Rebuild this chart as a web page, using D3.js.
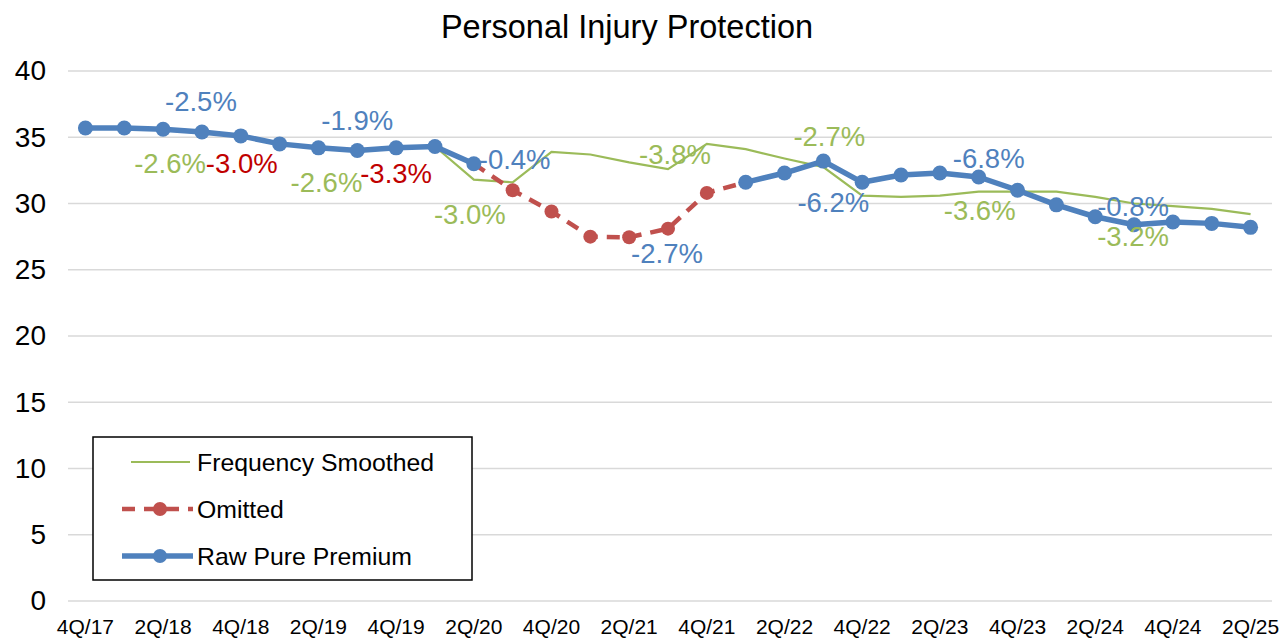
<!DOCTYPE html>
<html>
<head>
<meta charset="utf-8">
<script src="https://cdn.jsdelivr.net/npm/d3@7"></script>
<style>
  body { margin: 0; background: #fff; }
  #chart text { font-family: Arial, "Liberation Sans", sans-serif; }
</style>
</head>
<body>
<div id="chart"></div>
<script>
// quarters on the x axis
const quarters = ["4Q/17","1Q/18","2Q/18","3Q/18","4Q/18","1Q/19","2Q/19","3Q/19","4Q/19","1Q/20",
  "2Q/20","3Q/20","4Q/20","1Q/21","2Q/21","3Q/21","4Q/21","1Q/22","2Q/22","3Q/22",
  "4Q/22","1Q/23","2Q/23","3Q/23","4Q/23","1Q/24","2Q/24","3Q/24","4Q/24","1Q/25","2Q/25"]
const yTicks = [0, 5, 10, 15, 20, 25, 30, 35, 40]

const rawPurePremium = [35.7,35.7,35.6,35.4,35.1,34.5,34.2,34.0,34.2,34.3,
  33.0,null,null,null,null,null,null,31.6,32.3,33.2,
  31.6,32.15,32.3,32.0,31.0,29.9,29.0,28.4,28.6,28.5,28.2]
const omitted = [null,null,null,null,null,null,null,null,null,null,
  33.0,31.0,29.4,27.5,27.45,28.1,30.8,31.6,null,null,
  null,null,null,null,null,null,null,null,null,null,null]
const frequencySmoothed = [35.7,35.7,35.6,35.4,35.1,34.5,34.2,34.0,34.2,34.3,
  31.8,31.6,33.9,33.7,33.1,32.6,34.5,34.1,33.4,32.75,
  30.6,30.5,30.6,30.9,30.9,30.9,30.5,30.0,29.8,29.6,29.2]

// percent annotations: [quarter index, text]
const rawLabels = [[3,"-2.5%"],[7,"-1.9%"],[11,"-0.4%"],[15,"-2.7%"],[19,"-6.2%"],[23,"-6.8%"],[27,"-0.8%"]]
const freqLabels = [[2,"-2.6%"],[6,"-2.6%"],[10,"-3.0%"],[15,"-3.8%"],[19,"-2.7%"],[23,"-3.6%"],[27,"-3.2%"]]
const omitLabels = [[4,"-3.0%"],[8,"-3.3%"]]

const width = 1283, height = 638
const blue = "#4F81BD", red = "#C0504D", green = "#9BBB59", darkRed = "#C00000"

const svg = d3.select("#chart").append("svg")
  .attr("width", width).attr("height", height)

const x = d3.scaleBand().domain(d3.range(quarters.length)).range([66, 1270])
const cx = i => x(i) + x.bandwidth() / 2
const y = d3.scaleLinear().domain([0, 40]).range([601, 71])

// gridlines
svg.append("g")
  .selectAll("line").data(yTicks).join("line")
  .attr("x1", 68).attr("x2", 1272)
  .attr("y1", d => y(d)).attr("y2", d => y(d))
  .attr("stroke", "#D9D9D9").attr("stroke-width", 1.5)

// y axis labels
const yAxis = svg.append("g").attr("transform", "translate(46,0)")
  .call(d3.axisLeft(y).tickValues(yTicks).tickSize(0).tickPadding(0))
yAxis.select(".domain").remove()
yAxis.selectAll("text").attr("font-size", 28).attr("fill", "#000")

// x axis labels, every other quarter
const xAxis = svg.append("g").attr("transform", "translate(0,619)")
  .call(d3.axisBottom(x).tickValues(d3.range(0, quarters.length, 2))
    .tickFormat(i => quarters[i]).tickSize(0).tickPadding(0))
xAxis.select(".domain").remove()
xAxis.selectAll("text").attr("font-size", 21).attr("fill", "#000").attr("dy", "0.71em")

// title
svg.append("text").attr("x", 627).attr("y", 38).attr("text-anchor", "middle")
  .attr("font-size", 32.5).attr("fill", "#000").text("Personal Injury Protection")

const line = d3.line().defined(d => d != null).x((d, i) => cx(i)).y(d => y(d))

svg.append("path").datum(frequencySmoothed)
  .attr("d", line).attr("fill", "none").attr("stroke", green).attr("stroke-width", 2.2)

svg.append("path").datum(omitted)
  .attr("d", line).attr("fill", "none").attr("stroke", red).attr("stroke-width", 4.5)
  .attr("stroke-dasharray", "13,9")
svg.append("g").selectAll("circle")
  .data(omitted.map((v, i) => ({ v, i })).filter(d => d.v != null && rawPurePremium[d.i] == null))
  .join("circle").attr("cx", d => cx(d.i)).attr("cy", d => y(d.v)).attr("r", 7).attr("fill", red)

svg.append("path").datum(rawPurePremium)
  .attr("d", line).attr("fill", "none").attr("stroke", blue).attr("stroke-width", 5.5)
  .attr("stroke-linejoin", "round")
svg.append("g").selectAll("circle")
  .data(rawPurePremium.map((v, i) => ({ v, i })).filter(d => d.v != null))
  .join("circle").attr("cx", d => cx(d.i)).attr("cy", d => y(d.v)).attr("r", 7.5).attr("fill", blue)

// label placement: [dx in px, level in chart units]
const rawPlace = [[-1,37.74],[0,36.3],[2,33.36],[-1,26.2],[10,30.1],[10,33.4],[-1,29.8]]
const freqPlace = [[7,33.06],[8,31.6],[-4,29.2],[7,33.7],[6,35.1],[1,29.5],[-1,27.5]]
const omitPlace = [[1,33.06],[0,32.3]]

function addLabels(labels, place, color) {
  svg.append("g").selectAll("text").data(labels).join("text")
    .attr("x", (d, k) => cx(d[0]) + place[k][0])
    .attr("y", (d, k) => y(place[k][1]))
    .attr("dy", "0.35em")
    .attr("text-anchor", "middle").attr("font-size", 27.5).attr("fill", color)
    .text(d => d[1])
}
addLabels(freqLabels, freqPlace, green)
addLabels(omitLabels, omitPlace, darkRed)
addLabels(rawLabels, rawPlace, blue)

// legend
const legend = svg.append("g")
legend.append("rect").attr("x", 93).attr("y", 437).attr("width", 379).attr("height", 143)
  .attr("fill", "#fff").attr("stroke", "#000").attr("stroke-width", 1.5)
const items = [
  { name: "Frequency Smoothed", color: green, w: 2.2, dash: null, marker: false },
  { name: "Omitted", color: red, w: 4.5, dash: "13,9", marker: true },
  { name: "Raw Pure Premium", color: blue, w: 5.5, dash: null, marker: true }
]
items.forEach((it, k) => {
  const ly = 462 + k * 47
  legend.append("line").attr("x1", it.marker ? 122 : 131).attr("x2", it.marker ? 193 : 190)
    .attr("y1", ly).attr("y2", ly).attr("stroke", it.color).attr("stroke-width", it.w)
    .attr("stroke-dasharray", it.dash)
  if (it.marker) legend.append("circle").attr("cx", 160).attr("cy", ly).attr("r", 7).attr("fill", it.color)
  legend.append("text").attr("x", 197).attr("y", ly).attr("dy", "0.35em")
    .attr("font-size", 24.8).attr("fill", "#000").text(it.name)
})
</script>
</body>
</html>
